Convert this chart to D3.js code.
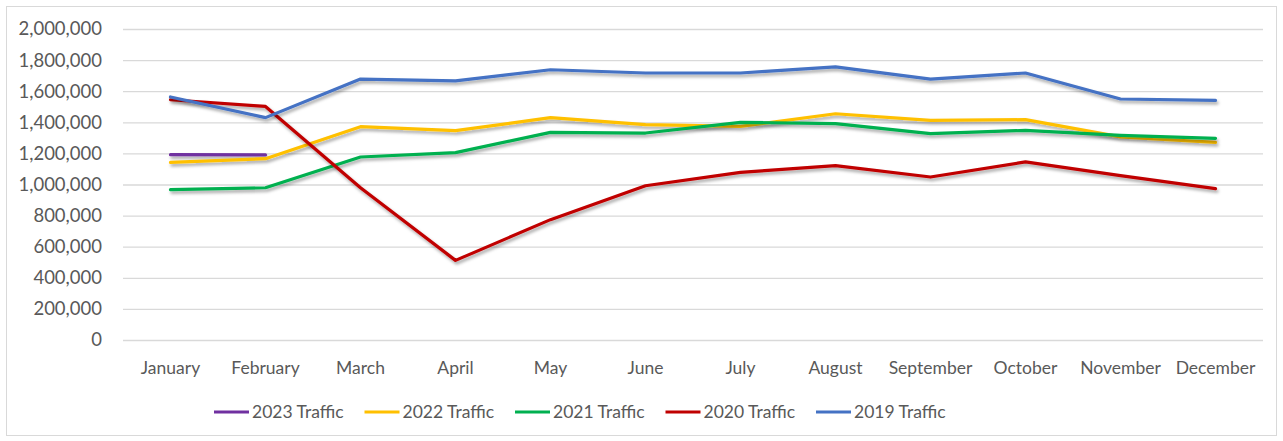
<!DOCTYPE html>
<html>
<head>
<meta charset="utf-8">
<script src="https://cdn.jsdelivr.net/npm/d3@7"></script>
<style>
  body { margin: 0; background: #fff; }
  text { font-family: Lato, "Open Sans", sans-serif; fill: #595959; }
</style>
</head>
<body>
<div class="chart"></div>
<script>
(function () {
  'use strict';

  var months = ['January', 'February', 'March', 'April', 'May', 'June',
    'July', 'August', 'September', 'October', 'November', 'December'];

  var traffic2023 = [1192000, 1190000];
  var traffic2022 = [1142000, 1166000, 1372000, 1346000, 1430000, 1385000,
    1374000, 1455000, 1412000, 1417000, 1306000, 1271000];
  var traffic2021 = [967000, 979000, 1177000, 1205000, 1335000, 1331000,
    1400000, 1391000, 1327000, 1348000, 1316000, 1297000];
  var traffic2020 = [1545000, 1502000, 979000, 512000, 774000, 992000,
    1078000, 1121000, 1048000, 1145000, 1057000, 973000];
  var traffic2019 = [1563000, 1430000, 1678000, 1666000, 1738000, 1717000,
    1717000, 1756000, 1678000, 1717000, 1550000, 1541000];

  var yTicks = [0, 200000, 400000, 600000, 800000, 1000000,
    1200000, 1400000, 1600000, 1800000, 2000000];

  var series = [
    { name: '2023 Traffic', color: '#7030A0', values: traffic2023 },
    { name: '2022 Traffic', color: '#FFC000', values: traffic2022 },
    { name: '2021 Traffic', color: '#00B050', values: traffic2021 },
    { name: '2020 Traffic', color: '#C00000', values: traffic2020 },
    { name: '2019 Traffic', color: '#4472C4', values: traffic2019 }
  ];

  var W = 1283, H = 441;
  var margin = { top: 29, right: 20, bottom: 101, left: 123 };
  var width = W - margin.left - margin.right;
  var height = H - margin.top - margin.bottom;

  var x = d3.scaleBand().domain(months).range([0, width]);
  var y = d3.scaleLinear().domain([0, 2000000]).range([height, 0]);

  var root = d3.select('.chart').append('svg')
    .attr('width', W)
    .attr('height', H);

  // soft shadow under the lines, like the spreadsheet effect
  var f = root.append('defs').append('filter').attr('id', 'shadow')
    .attr('filterUnits', 'userSpaceOnUse')
    .attr('x', -50).attr('y', -50).attr('width', W + 100).attr('height', H + 100);
  f.append('feDropShadow')
    .attr('dx', 1.5).attr('dy', 2.5)
    .attr('stdDeviation', 1.6)
    .attr('flood-color', '#000')
    .attr('flood-opacity', 0.35);

  root.append('rect')
    .attr('x', 6.5).attr('y', 6.5)
    .attr('width', W - 13).attr('height', H - 12)
    .attr('fill', 'none')
    .attr('stroke', '#d9d9d9');

  var svg = root.append('g')
    .attr('transform', 'translate(' + margin.left + ',' + margin.top + ')');

  var yAxis = svg.append('g')
    .attr('class', 'y axis')
    .call(d3.axisLeft(y).tickValues(yTicks).tickSize(-width).tickPadding(21)
      .tickFormat(d3.format(',')));
  yAxis.select('.domain').remove();
  yAxis.selectAll('line').attr('stroke', '#d9d9d9').attr('stroke-width', 1.3);
  yAxis.selectAll('text').style('font-size', '18.5px').attr('fill', '#595959');

  var xAxis = svg.append('g')
    .attr('class', 'x axis')
    .attr('transform', 'translate(0,' + height + ')')
    .call(d3.axisBottom(x).tickSize(0).tickPadding(22));
  xAxis.select('.domain').remove();
  xAxis.selectAll('text').style('font-size', '17.5px').attr('fill', '#595959');

  var line = d3.line()
    .x(function (d, i) { return x(months[i]) + x.bandwidth() / 2; })
    .y(function (d) { return y(d); });

  svg.selectAll('.series')
    .data(series)
    .enter()
    .append('path')
    .attr('class', 'series')
    .attr('d', function (d) { return line(d.values); })
    .attr('fill', 'none')
    .attr('stroke', function (d) { return d.color; })
    .attr('stroke-width', 3.2)
    .attr('stroke-linecap', 'round')
    .attr('stroke-linejoin', 'round')
    .attr('filter', 'url(#shadow)');

  // legend
  var legend = root.append('g')
    .attr('transform', 'translate(214,412)');
  var item = legend.selectAll('.item')
    .data(series)
    .enter()
    .append('g')
    .attr('class', 'item')
    .attr('transform', function (d, i) { return 'translate(' + (i * 150.5) + ',0)'; });
  item.append('line')
    .attr('x1', 0).attr('x2', 35)
    .attr('y1', 0).attr('y2', 0)
    .attr('stroke', function (d) { return d.color; })
    .attr('stroke-width', 3.2);
  item.append('text')
    .attr('x', 38)
    .attr('dy', '0.35em')
    .style('font-size', '17.5px')
    .text(function (d) { return d.name; });
}());
</script>
</body>
</html>
